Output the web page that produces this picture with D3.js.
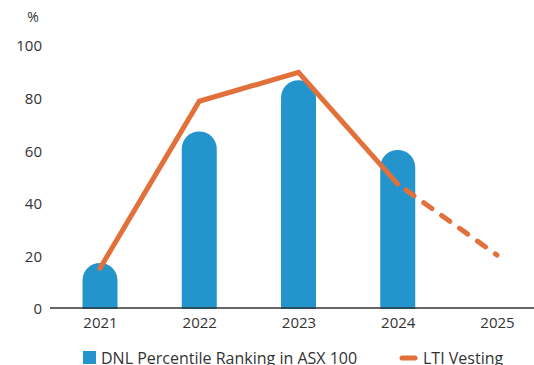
<!DOCTYPE html>
<html>
<head>
<meta charset="utf-8">
<script src="https://cdn.jsdelivr.net/npm/d3@7"></script>
<style>
  body { margin: 0; background: #fff; }
  text { font-family: "Open Sans", sans-serif; fill: #333; }
</style>
</head>
<body>
<div id="chartContainer"></div>
<script>
// Data
const years = ["2021", "2022", "2023", "2024", "2025"];
const rankingYears = ["2021", "2022", "2023", "2024"];
const rankingValues = [17.5, 67.5, 87, 60.5];
const vestingYears = ["2021", "2022", "2023", "2024", "2025"];
const vestingValues = [15.5, 79, 90, 47.5, 20.5];
const vestingActualCount = 4; // solid up to 2024, dashed to 2025
const yTicks = [0, 20, 40, 60, 80, 100];

function createChart() {
    const width = 534;
    const height = 365;
    const marginLeft = 50;
    const marginRight = 0;
    const top100 = 46;
    const base0 = 309;

    const x = d3.scalePoint()
        .domain(years)
        .range([100, 497]);

    const y = d3.scaleLinear()
        .domain([0, 100])
        .range([base0, top100]);

    const svg = d3.create("svg")
        .attr("viewBox", [0, 0, width, height])
        .attr("width", width)
        .attr("height", height);

    // Y axis labels only
    const yAxis = g => g
        .attr("transform", `translate(${marginLeft - 8},0)`)
        .call(d3.axisLeft(y).tickValues(yTicks).tickSize(0).tickPadding(0))
        .call(g => g.select(".domain").remove())
        .call(g => g.selectAll("text")
            .attr("font-size", 15)
            .attr("font-family", "Open Sans, sans-serif")
            .attr("fill", "#333"));
    svg.append("g").call(yAxis);

    svg.append("text")
        .attr("x", 33)
        .attr("y", 22)
        .attr("text-anchor", "middle")
        .attr("font-size", 14)
        .text("%");

    // Bars with rounded tops
    const bw = 35;
    const r = bw / 2;
    svg.append("g")
        .selectAll("path")
        .data(rankingYears.map((d, i) => ({year: d, value: rankingValues[i]})))
        .join("path")
        .attr("fill", "#2394cc")
        .attr("d", d => {
            const x0 = x(d.year) - bw / 2;
            const yt = y(d.value);
            const yb = y(0);
            return `M${x0},${yb} L${x0},${yt + r} A${r},${r} 0 0 1 ${x0 + bw},${yt + r} L${x0 + bw},${yb} Z`;
        });

    // X axis
    const xAxis = g => g
        .attr("transform", `translate(0,${base0 - 1})`)
        .call(d3.axisBottom(x).tickSize(0).tickPadding(9))
        .call(g => g.select(".domain")
            .attr("d", `M${marginLeft},0H${width - marginRight}`)
            .attr("stroke", "#333")
            .attr("stroke-width", 1.5))
        .call(g => g.selectAll("text")
            .attr("font-size", 15)
            .attr("font-family", "Open Sans, sans-serif")
            .attr("fill", "#333"));
    svg.append("g").call(xAxis);

    // LTI Vesting line
    const pts = vestingYears.map((d, i) => [x(d), y(vestingValues[i])]);
    const line = d3.line();
    svg.append("path")
        .attr("d", line(pts.slice(0, vestingActualCount)))
        .attr("fill", "none")
        .attr("stroke", "#e2703a")
        .attr("stroke-width", 5)
        .attr("stroke-linejoin", "miter")
        .attr("stroke-linecap", "round");
    svg.append("path")
        .attr("d", line(pts.slice(vestingActualCount - 1)))
        .attr("fill", "none")
        .attr("stroke", "#e2703a")
        .attr("stroke-width", 5)
        .attr("stroke-dasharray", "10,12")
        .attr("stroke-dashoffset", -10)
        .attr("stroke-linecap", "round");

    // Legend (cut off at the bottom edge, as in the original)
    const legend = svg.append("g");
    legend.append("rect")
        .attr("x", 83).attr("y", 351)
        .attr("width", 13).attr("height", 13)
        .attr("fill", "#2394cc");
    legend.append("text")
        .attr("x", 101).attr("y", 364)
        .attr("font-size", 16)
        .text("DNL Percentile Ranking in ASX 100");
    legend.append("line")
        .attr("x1", 402).attr("x2", 415)
        .attr("y1", 358).attr("y2", 358)
        .attr("stroke", "#e2703a")
        .attr("stroke-width", 5)
        .attr("stroke-linecap", "round");
    legend.append("text")
        .attr("x", 423).attr("y", 364)
        .attr("font-size", 16)
        .text("LTI Vesting");

    return svg.node();
}

document.getElementById("chartContainer").appendChild(createChart());
</script>
</body>
</html>
